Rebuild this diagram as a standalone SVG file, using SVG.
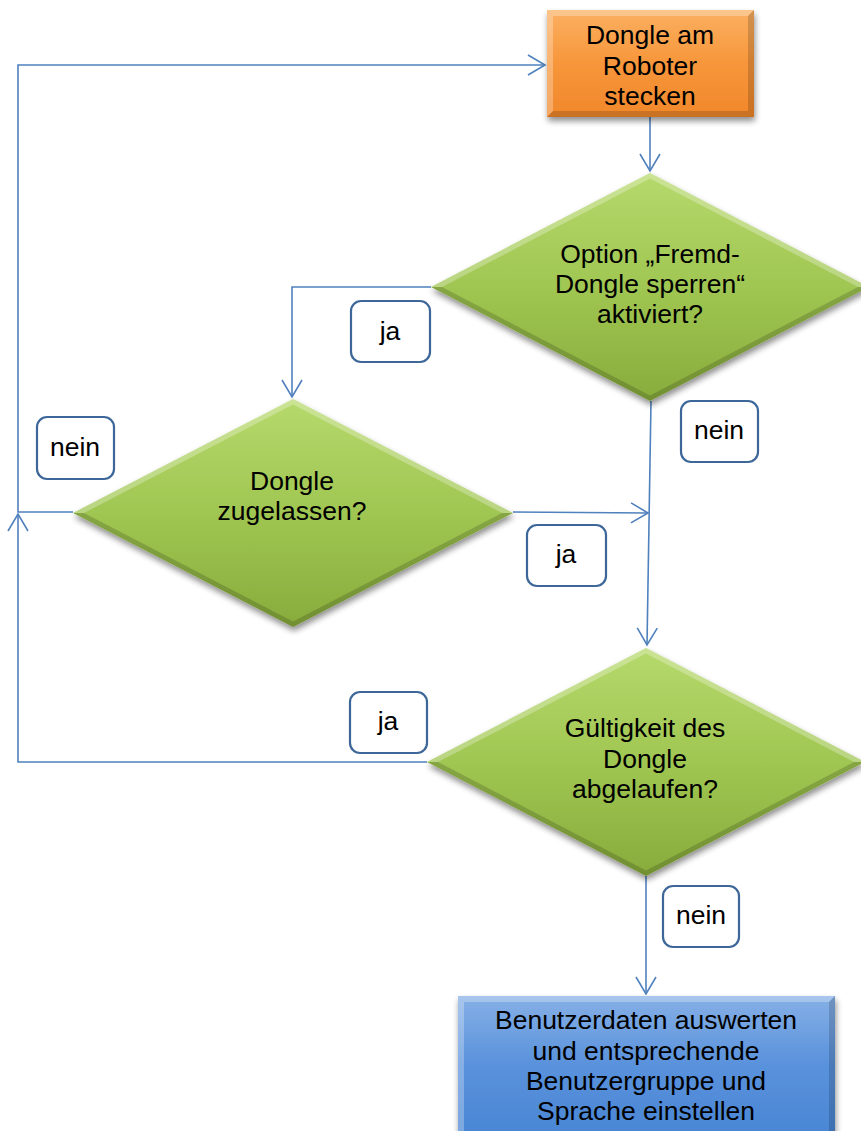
<svg xmlns="http://www.w3.org/2000/svg" width="861" height="1131" viewBox="0 0 861 1131">
<style>
.t{font-family:"Liberation Sans",Arial,sans-serif;font-size:26.5px;fill:#000;text-anchor:middle}
.c{fill:none;stroke:#4f81bd;stroke-width:1.6}
.lb{fill:#fff;stroke:#3d6799;stroke-width:2.2}
.hl{fill:#fff;opacity:.28}
.sh{fill:#000;opacity:.16}
</style>
<defs>
<linearGradient id="gO" x1="0" y1="0" x2="0" y2="1">
<stop offset="0" stop-color="#fbb061"/><stop offset=".5" stop-color="#f7963b"/><stop offset="1" stop-color="#f1872a"/>
</linearGradient>
<linearGradient id="gG" x1="0" y1="0" x2="0" y2="1">
<stop offset="0" stop-color="#b6d96c"/><stop offset=".5" stop-color="#a0c652"/><stop offset="1" stop-color="#88ac3c"/>
</linearGradient>
<linearGradient id="gB" x1="0" y1="0" x2="0" y2="1">
<stop offset="0" stop-color="#86b0e6"/><stop offset=".45" stop-color="#5a92dc"/><stop offset="1" stop-color="#4784d3"/>
</linearGradient>
<filter id="ds" x="-10%" y="-10%" width="120%" height="130%">
<feGaussianBlur in="SourceAlpha" stdDeviation="3"/>
<feOffset dx="1" dy="4" result="b"/>
<feComponentTransfer><feFuncA type="linear" slope=".45"/></feComponentTransfer>
<feMerge><feMergeNode/><feMergeNode in="SourceGraphic"/></feMerge>
</filter>
<marker id="ar" markerUnits="userSpaceOnUse" markerWidth="22" markerHeight="26" viewBox="-20 -13 22 26" refX="0" refY="0" orient="auto">
<path d="M-17,-10 L0,0 L-17,10" fill="none" stroke="#4f81bd" stroke-width="1.6"/>
</marker>
</defs>

<g id="connectors">
<path class="c" d="M650,117 L650,171" marker-end="url(#ar)"/>
<path class="c" d="M431,287 H292 V397" marker-end="url(#ar)"/>
<path class="c" d="M651,401 L647,645" marker-end="url(#ar)"/>
<path class="c" d="M513,512 L648,513" marker-end="url(#ar)"/>
<path class="c" d="M73,512 H18 V65 H545" marker-end="url(#ar)"/>
<path class="c" d="M427,762 H18 V514" marker-end="url(#ar)"/>
<path class="c" d="M646,876 V994" marker-end="url(#ar)"/>
</g>

<g id="n1">
<g filter="url(#ds)"><rect x="547" y="10" width="207" height="107" fill="url(#gO)"/></g>
<polygon class="hl" points="547,10 754,10 748,16 553,16"/>
<polygon class="hl" points="547,10 553,16 553,111 547,117" opacity=".15"/>
<polygon class="sh" points="754,10 754,117 748,111 748,16"/>
<polygon class="sh" points="547,117 754,117 748,111 553,111" opacity=".22"/>
<text class="t" x="650" y="44">Dongle am</text>
<text class="t" x="650" y="74.5">Roboter</text>
<text class="t" x="650" y="105">stecken</text>
</g>

<g id="n2">
<g filter="url(#ds)"><polygon points="650,173 869,287 650,401 431,287" fill="url(#gG)"/></g>
<polygon class="hl" points="650,173 431,287 442,287 650,178.6"/>
<polygon class="hl" points="650,173 869,287 858,287 650,178.6" opacity=".2"/>
<polygon class="sh" points="431,287 650,401 650,395.4 442,287"/>
<polygon class="sh" points="869,287 650,401 650,395.4 858,287" opacity=".22"/>
<text class="t" x="650" y="263">Option „Fremd-</text>
<text class="t" x="650" y="293">Dongle sperren“</text>
<text class="t" x="650" y="323">aktiviert?</text>
</g>

<g id="n3">
<g filter="url(#ds)"><polygon points="293,399 513,513 293,627 73,513" fill="url(#gG)"/></g>
<polygon class="hl" points="293,399 73,513 84,513 293,404.6"/>
<polygon class="hl" points="293,399 513,513 502,513 293,404.6" opacity=".2"/>
<polygon class="sh" points="73,513 293,627 293,621.4 84,513"/>
<polygon class="sh" points="513,513 293,627 293,621.4 502,513" opacity=".22"/>
<text class="t" x="292" y="490">Dongle</text>
<text class="t" x="292" y="520">zugelassen?</text>
</g>

<g id="n4">
<g filter="url(#ds)"><polygon points="646,648 865,762 646,876 427,762" fill="url(#gG)"/></g>
<polygon class="hl" points="646,648 427,762 438,762 646,653.6"/>
<polygon class="hl" points="646,648 865,762 854,762 646,653.6" opacity=".2"/>
<polygon class="sh" points="427,762 646,876 646,870.4 438,762"/>
<polygon class="sh" points="865,762 646,876 646,870.4 854,762" opacity=".22"/>
<text class="t" x="645" y="737">Gültigkeit des</text>
<text class="t" x="645" y="768">Dongle</text>
<text class="t" x="645" y="798">abgelaufen?</text>
</g>

<g id="n5">
<g filter="url(#ds)"><rect x="458" y="996" width="377" height="150" fill="url(#gB)"/></g>
<polygon class="hl" points="458,996 835,996 829,1002 464,1002"/>
<polygon class="hl" points="458,996 464,1002 464,1131 458,1131" opacity=".15"/>
<polygon class="sh" points="835,996 835,1131 829,1131 829,1002"/>
<text class="t" x="646" y="1029">Benutzerdaten auswerten</text>
<text class="t" x="646" y="1059.5">und entsprechende</text>
<text class="t" x="646" y="1090">Benutzergruppe und</text>
<text class="t" x="646" y="1120">Sprache einstellen</text>
</g>

<g id="l1"><rect class="lb" x="351" y="301" width="79" height="61" rx="10"/><text class="t" x="390" y="340">ja</text></g>
<g id="l2"><rect class="lb" x="681" y="401" width="77" height="61" rx="10"/><text class="t" x="719" y="439">nein</text></g>
<g id="l3"><rect class="lb" x="37" y="417" width="77" height="62" rx="10"/><text class="t" x="75" y="456">nein</text></g>
<g id="l4"><rect class="lb" x="527" y="525" width="79" height="61" rx="10"/><text class="t" x="566" y="563">ja</text></g>
<g id="l5"><rect class="lb" x="350" y="692" width="77" height="61" rx="10"/><text class="t" x="388" y="730">ja</text></g>
<g id="l6"><rect class="lb" x="663" y="886" width="76" height="61" rx="10"/><text class="t" x="701" y="924">nein</text></g>
</svg>
